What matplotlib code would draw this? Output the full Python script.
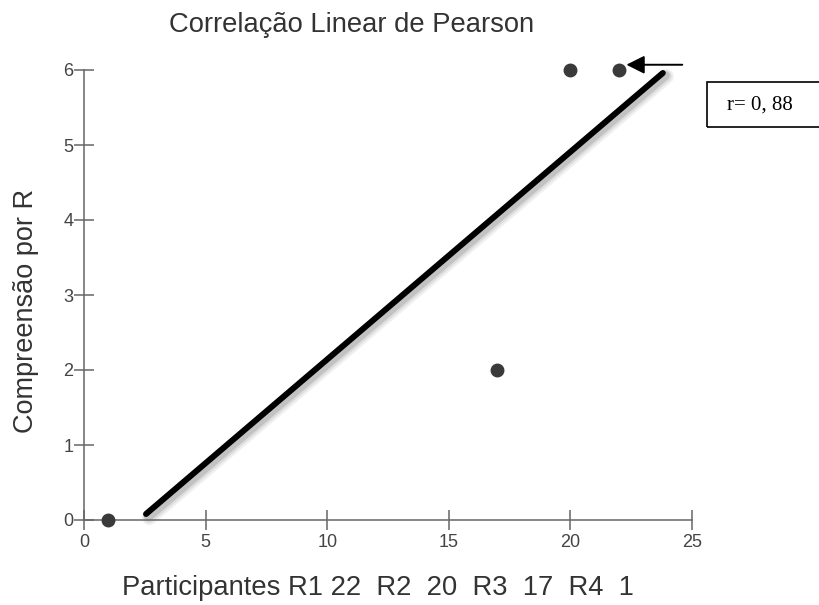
import matplotlib
matplotlib.use('Agg')
import matplotlib.pyplot as plt
import matplotlib.patheffects as pe
from matplotlib.patches import Rectangle

# data
part_x = [1, 17, 20, 22]
comp_y = [0, 2, 6, 6]
fit_x = [2.55, 23.8]
fit_y = [0.08, 5.96]
x_ticks = [0, 5, 10, 15, 20, 25]
y_ticks = [0, 1, 2, 3, 4, 5, 6]
r_text = 'r= 0, 88'

W, H = 819, 605
plt.rcParams['font.family'] = ['Liberation Sans', 'DejaVu Sans']

fig = plt.figure(figsize=(W / 100, H / 100), dpi=100)
ax = fig.add_axes([84 / W, 1 - 520 / H, (692 - 84) / W, 450 / H])

spine_col = '#666666'
for s in ['top', 'right']:
    ax.spines[s].set_visible(False)
for s in ['left', 'bottom']:
    ax.spines[s].set_color(spine_col)
    ax.spines[s].set_linewidth(1.1)
ax.spines['bottom'].set_bounds(0, 25)
ax.spines['left'].set_bounds(0, 6)

ax.set_xlim(0, 25)
ax.set_ylim(0, 6)
ax.set_xticks(x_ticks)
ax.set_yticks(y_ticks)
ax.tick_params(axis='both', direction='inout', length=14, width=1.1,
               color=spine_col, labelcolor='#444444', labelsize=13)
ax.tick_params(axis='x', pad=3)
ax.tick_params(axis='y', pad=0.5)

# regression line with soft (blurred-ish) shadow
shadow = [
    pe.SimpleLineShadow(offset=(2.5, -2.5), shadow_color='black', alpha=0.06, linewidth=11),
    pe.SimpleLineShadow(offset=(2.2, -2.2), shadow_color='black', alpha=0.08, linewidth=8.5),
    pe.SimpleLineShadow(offset=(1.8, -1.8), shadow_color='black', alpha=0.12, linewidth=6.5),
    pe.Normal(),
]
ax.plot(fit_x, fit_y, color='black', lw=4.3, solid_capstyle='round',
        path_effects=shadow, clip_on=False, zorder=2)

ax.plot(part_x, comp_y, 'o', color='#3a3a3a', ms=9, clip_on=False, zorder=3)

# arrow pointing at top point
ax.annotate('', xy=(22.3, 6.07), xytext=(24.6, 6.07), annotation_clip=False,
            arrowprops=dict(arrowstyle='-|>,head_length=0.5,head_width=0.25',
                            mutation_scale=22, color='black', lw=1.4,
                            shrinkA=0, shrinkB=0))

# r box
fig.patches.append(Rectangle((707 / W, 1 - 127 / H), 114 / W, 45 / H,
                             transform=fig.transFigure, fill=False,
                             edgecolor='black', linewidth=1.2))
fig.text(727 / W, 1 - 105 / H, r_text, ha='left', va='center',
         fontsize=15, family=['Liberation Serif', 'DejaVu Serif'], color='black')

fig.text(352 / W, 1 - 25 / H, 'Correlação Linear de Pearson', ha='center',
         va='center', fontsize=19.7, color='#333333')
fig.text(378 / W, 1 - 588 / H, 'Participantes R1 22  R2  20  R3  17  R4  1',
         ha='center', va='center', fontsize=19.7, color='#333333')
fig.text(26 / W, 1 - 311 / H, 'Compreensão por R', ha='center', va='center',
         rotation=90, fontsize=19.5, color='#333333')

fig.savefig('out.png', dpi=100)
